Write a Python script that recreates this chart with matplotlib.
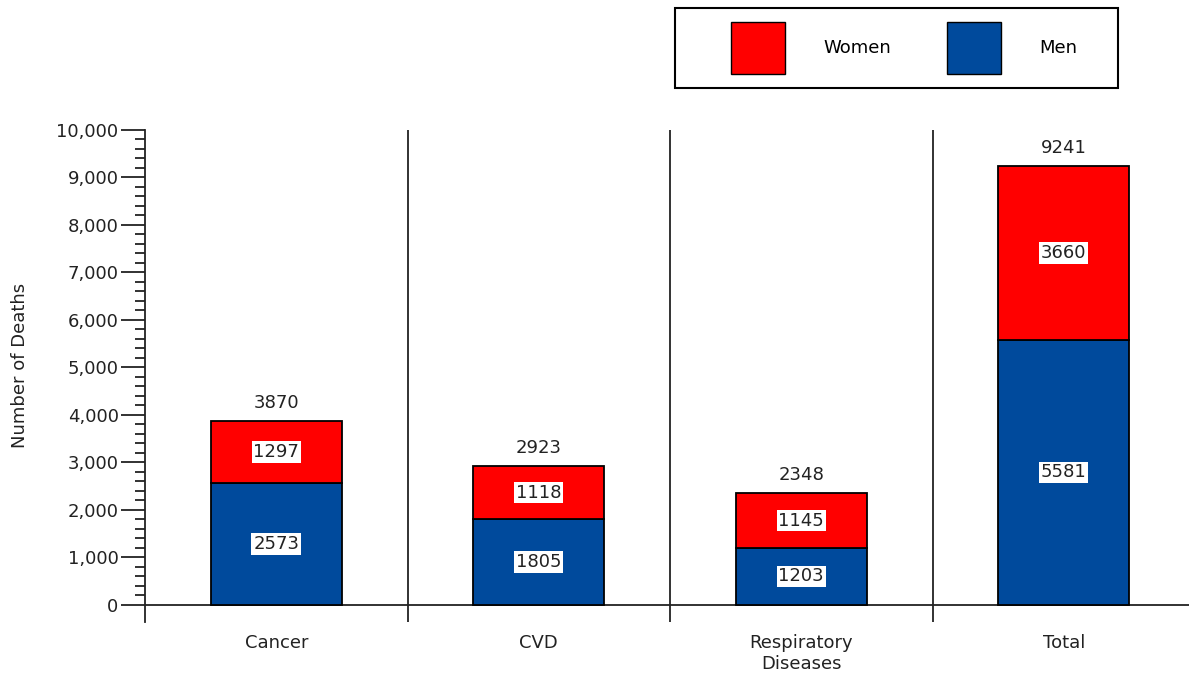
import numpy as np
import matplotlib
matplotlib.use('Agg')
from matplotlib import pyplot as plt
from matplotlib.ticker import FuncFormatter
from matplotlib.patches import Patch, Rectangle

# data
categories = ['Cancer', 'CVD', 'Respiratory\nDiseases', 'Total']
men = [2573, 1805, 1203, 5581]
women = [1297, 1118, 1145, 3660]
totals = [3870, 2923, 2348, 9241]

red = '#FF0000'
blue = '#004A9C'
ink = '#222222'

plt.rcParams['font.family'] = ['DejaVu Sans']
fs = 13

fig = plt.figure(figsize=(11.89, 6.81), dpi=100)
W, H = 1189, 681
# axes: left 145px, 0 at 605px, 10000 at 130px, spine runs down to 622px
ax = fig.add_axes([145/W, 1-622/H, 1050/W, (622-130)/H])

x = np.arange(len(categories))
ax.bar(x, men, width=0.5, color=blue, edgecolor='black', linewidth=1.3, zorder=3)
ax.bar(x, women, width=0.5, bottom=men, color=red, edgecolor='black', linewidth=1.3, zorder=3)

box = dict(boxstyle='square,pad=0.1', fc='white', ec='none')
for i in range(len(categories)):
    ax.text(x[i], men[i]/2, str(men[i]), ha='center', va='center', fontsize=fs, color=ink, bbox=box, zorder=4)
    ax.text(x[i], men[i] + women[i]/2, str(women[i]), ha='center', va='center', fontsize=fs, color=ink, bbox=box, zorder=4)
    ax.text(x[i], totals[i] + 200, str(totals[i]), ha='center', va='bottom', fontsize=fs, color=ink, zorder=4)

ax.set_xlim(-0.5, 3.5)
ax.set_ylim(-360, 10000)

# separators between categories
for b in x[:-1] + 0.5:
    ax.axvline(b, color=ink, linewidth=1.3, zorder=2)

ax.axhline(0, color=ink, linewidth=1.3, zorder=2)
for s in ['top', 'right', 'bottom']:
    ax.spines[s].set_visible(False)
ax.spines['left'].set_linewidth(1.3)
ax.spines['left'].set_color(ink)

ax.set_yticks(np.arange(0, 10001, 1000))
ax.set_yticks(np.arange(0, 10001, 200), minor=True)
ax.yaxis.set_major_formatter(FuncFormatter(lambda v, p: '{:,}'.format(int(v))))
ax.tick_params(axis='y', which='major', length=17, width=1.3, labelsize=fs, pad=2, colors=ink)
ax.tick_params(axis='y', which='minor', length=7, width=1.3, colors=ink)

ax.set_xticks(x)
ax.set_xticklabels(categories, fontsize=fs, color=ink)
ax.tick_params(axis='x', length=0, pad=9)

ax.set_ylabel('Number of Deaths', fontsize=fs, color=ink)
ax.yaxis.set_label_coords((29-145)/1050, (622-365)/492)

# legend box drawn by hand, entries placed inside it
fig.patches.append(Rectangle((675/W, 1-88/H), 443/W, 80/H, transform=fig.transFigure,
                             fill=False, edgecolor='black', linewidth=1.5))
handles = [Patch(facecolor=red, edgecolor='black'), Patch(facecolor=blue, edgecolor='black')]
fig.legend(handles, ['Women', 'Men'], loc='center', bbox_to_anchor=(904/W, 1-48/H),
           ncol=2, fontsize=fs, frameon=False,
           handlelength=3.0, handleheight=4.0, handletextpad=2.1, columnspacing=3.1,
           borderpad=0, borderaxespad=0)

fig.savefig('out.png', dpi=100)
